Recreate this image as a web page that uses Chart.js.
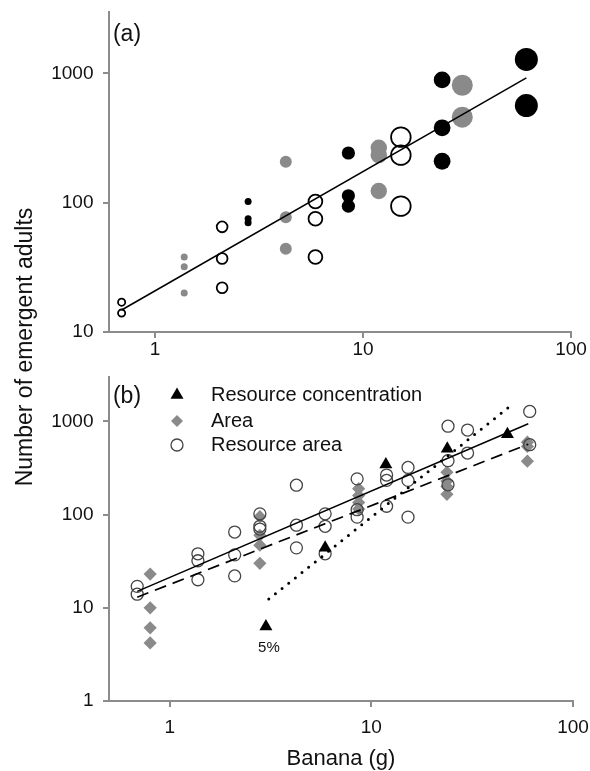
<!DOCTYPE html>
<html><head><meta charset="utf-8">
<script src="https://cdn.jsdelivr.net/npm/chart.js@4.4.0/dist/chart.umd.min.js"></script>
<style>
html,body{margin:0;padding:0;background:#fff;width:590px;height:771px;overflow:hidden;}
#wrap{position:relative;width:590px;height:771px;}
canvas{position:absolute;left:0;}
#ca{top:0;}
#cb{top:360px;}
#ytitle{position:absolute;left:-176px;top:334px;width:400px;height:26px;line-height:26px;text-align:center;
 font-family:'Liberation Sans',Arial,sans-serif;font-size:23px;color:#111;transform:rotate(-90deg);white-space:nowrap;}
</style></head><body>
<div id="wrap">
<canvas id="ca" width="590" height="365"></canvas>
<canvas id="cb" width="590" height="411"></canvas>
<div id="ytitle">Number of emergent adults</div>
</div>
<script>
// ---------------- data ----------------
const xTicks = [1, 10, 100];
const yTicksA = [10, 100, 1000];
const yTicksB = [1, 10, 100, 1000];
const panelLabels = ['(a)', '(b)'];
const xTitle = 'Banana (g)';
const seriesNames = ['Resource concentration', 'Area', 'Resource area'];
const noteLabel = '5%';

// Panel (a): three colour groups
const blackX = [2.8, 2.8, 2.8, 8.5, 8.5, 8.5, 24, 24, 24, 61, 61];
const blackY = [102, 75, 70, 242, 113, 94, 889, 379, 209, 1280, 563];
const greyX = [1.38, 1.38, 1.38, 4.25, 4.25, 4.25, 11.9, 11.9, 11.9, 30, 30];
const greyY = [38, 32, 20, 207, 77, 44, 266, 233, 123, 809, 458];
const openX = [0.69, 0.69, 2.1, 2.1, 2.1, 5.9, 5.9, 5.9, 15.2, 15.2, 15.2];
const openY = [17, 14, 65, 37, 22, 102, 75, 38, 321, 233, 94];
const fitAX = [0.69, 61];
const fitAY = [14.8, 922];

// Panel (b)
const concX = [3, 5.9, 11.8, 23.8, 47.3];
const concY = [6.3, 44, 345, 510, 730];
const areaX = [0.8, 0.8, 0.8, 0.8, 2.8, 2.8, 2.8, 2.8, 8.65, 8.65, 8.65, 8.65, 23.7, 23.7, 23.7, 23.7, 59.4, 59.4, 59.4];
const areaY = [23, 10, 6.1, 4.2, 95, 60, 47, 30, 190, 160, 135, 115, 285, 230, 200, 165, 600, 540, 375];
const resAreaX = [].concat(blackX, greyX, openX);
const resAreaY = [].concat(blackY, greyY, openY);
const fitSolidX = [0.69, 60];
const fitSolidY = [15, 945];
const fitDashX = [0.69, 60];
const fitDashY = [13, 570];
const fitDotX = [3.1, 48];
const fitDotY = [12.4, 1420];

// ---------------- styles ----------------
const FONT = "'Liberation Sans', Arial, Helvetica, sans-serif";
const AXIS_GREY = '#8c8c8c';
const MARK_GREY = '#8a8a8a';
const INK = '#111';
// marker radius in panel (a) by banana mass (style only)
const sizeA = {'0.69': 3.6, '1.38': 3.5, '2.1': 5.4, '2.8': 3.5, '4.25': 6, '5.9': 6.9,
               '8.5': 6.6, '11.9': 8.2, '15.2': 9.8, '24': 8.4, '30': 10.5, '61': 11.5};

function pts(xs, ys) { return xs.map((x, i) => ({x: x, y: ys[i]})); }

function axis(min, max, tickVals, pad, fitFn, title) {
  const o = {
    type: 'logarithmic', min: min, max: max,
    border: {display: true, color: AXIS_GREY, width: 2},
    grid: {display: true, drawOnChartArea: false, drawTicks: true, tickLength: 6,
           tickWidth: 2, tickColor: AXIS_GREY, lineWidth: 2, color: AXIS_GREY},
    afterBuildTicks: s => { s.ticks = tickVals.map(v => ({value: v})); },
    afterFit: fitFn,
    ticks: {autoSkip: false, maxRotation: 0, minRotation: 0, padding: pad, color: INK,
            font: {family: FONT, size: 19}, callback: v => String(v)}
  };
  if (title) {
    o.title = {display: true, text: title, color: INK, padding: {top: 0, bottom: 1},
               font: {family: FONT, size: 22, lineHeight: 1}};
  }
  return o;
}

Chart.defaults.font.family = FONT;

function drawText(c, txt, x, y, size, align) {
  c.font = size + 'px ' + FONT;
  c.fillStyle = INK;
  c.textAlign = align || 'center';
  c.textBaseline = 'middle';
  c.fillText(txt, x, y);
}

const plugA = {
  id: 'plugA',
  afterDraw(chart) {
    const c = chart.ctx, a = chart.chartArea;
    c.save();
    drawText(c, panelLabels[0], a.left + 18, a.top + 23, 23);
    c.restore();
  }
};

const plugB = {
  id: 'plugB',
  afterDraw(chart) {
    const c = chart.ctx, a = chart.chartArea;
    c.save();
    drawText(c, panelLabels[1], a.left + 18, a.top + 20, 23);
    const mx = a.left + 68, tx = a.left + 102;
    const rows = [a.top + 18, a.top + 44, a.top + 68];
    // triangle
    let r = 7.5, y = rows[0];
    c.beginPath();
    c.moveTo(mx, y - r);
    c.lineTo(mx + r * 0.866, y + r * 0.5);
    c.lineTo(mx - r * 0.866, y + r * 0.5);
    c.closePath();
    c.fillStyle = '#000'; c.fill();
    // diamond
    r = 6; y = rows[1];
    c.beginPath();
    c.moveTo(mx, y - r); c.lineTo(mx + r, y); c.lineTo(mx, y + r); c.lineTo(mx - r, y);
    c.closePath();
    c.fillStyle = MARK_GREY; c.fill();
    // open circle
    y = rows[2];
    c.beginPath(); c.arc(mx, y, 6, 0, Math.PI * 2);
    c.lineWidth = 1.3; c.strokeStyle = '#444'; c.stroke();
    seriesNames.forEach((s, i) => drawText(c, s, tx, rows[i], 20, 'left'));
    // 5% note under the lowest resource-concentration point
    const px = chart.scales.x.getPixelForValue(concX[0]);
    const py = chart.scales.y.getPixelForValue(concY[0]);
    drawText(c, noteLabel, px + 3, py + 21, 15);
    c.restore();
  }
};

// ---------------- panel (a) ----------------
new Chart(document.getElementById('ca'), {
  type: 'scatter',
  data: {datasets: [
    {data: pts(fitAX, fitAY), showLine: true, borderColor: '#000', borderWidth: 1.5, pointRadius: 0, fill: false},
    {data: pts(blackX, blackY), backgroundColor: '#000', borderWidth: 0,
     pointRadius: ctx => sizeA[String(ctx.raw.x)]},
    {data: pts(greyX, greyY), backgroundColor: MARK_GREY, borderWidth: 0,
     pointRadius: ctx => sizeA[String(ctx.raw.x)]},
    {data: pts(openX, openY), backgroundColor: 'rgba(255,255,255,0)', borderColor: '#000', borderWidth: 1.8,
     pointRadius: ctx => sizeA[String(ctx.raw.x)]}
  ]},
  options: {
    responsive: false, animation: false, devicePixelRatio: 1,
    layout: {padding: {left: 0, right: 19, top: 8, bottom: 0}},
    plugins: {legend: {display: false}, tooltip: {enabled: false}},
    scales: {
      x: axis(0.6, 100, xTicks, 0, s => { s.height = 33; s.paddingLeft = 0; s.paddingRight = 0; }),
      y: axis(10, 3000, yTicksA, 9.5, s => { s.width = 109; s.paddingTop = 0; s.paddingBottom = 0; })
    }
  },
  plugins: [plugA]
});

// ---------------- panel (b) ----------------
new Chart(document.getElementById('cb'), {
  type: 'scatter',
  data: {datasets: [
    {data: pts(concX, concY), pointStyle: 'triangle', pointRadius: 7.5, backgroundColor: '#000', borderWidth: 0},
    {data: pts(fitSolidX, fitSolidY), showLine: true, borderColor: '#000', borderWidth: 1.5, pointRadius: 0},
    {data: pts(fitDashX, fitDashY), showLine: true, borderColor: '#000', borderWidth: 1.7, borderDash: [12, 7], pointRadius: 0},
    {data: pts(fitDotX, fitDotY), showLine: true, borderColor: '#000', borderWidth: 3, borderDash: [0, 8.5],
     borderCapStyle: 'round', pointRadius: 0},
    {data: pts(resAreaX, resAreaY), pointStyle: 'circle', pointRadius: 6, backgroundColor: 'rgba(255,255,255,0)',
     borderColor: '#444', borderWidth: 1.3},
    {data: pts(areaX, areaY), pointStyle: 'rectRot', pointRadius: 6.6, backgroundColor: MARK_GREY, borderWidth: 0}
  ]},
  options: {
    responsive: false, animation: false, devicePixelRatio: 1,
    layout: {padding: {left: 0, right: 17, top: 17, bottom: 0}},
    plugins: {legend: {display: false}, tooltip: {enabled: false}},
    scales: {
      x: axis(0.5, 100, xTicks, 9, s => { s.height = 70; s.paddingLeft = 0; s.paddingRight = 0; }, xTitle),
      y: axis(1, 3000, yTicksB, 9.5, s => { s.width = 109; s.paddingTop = 0; s.paddingBottom = 0; })
    }
  },
  plugins: [plugB]
});
</script>
</body></html>
